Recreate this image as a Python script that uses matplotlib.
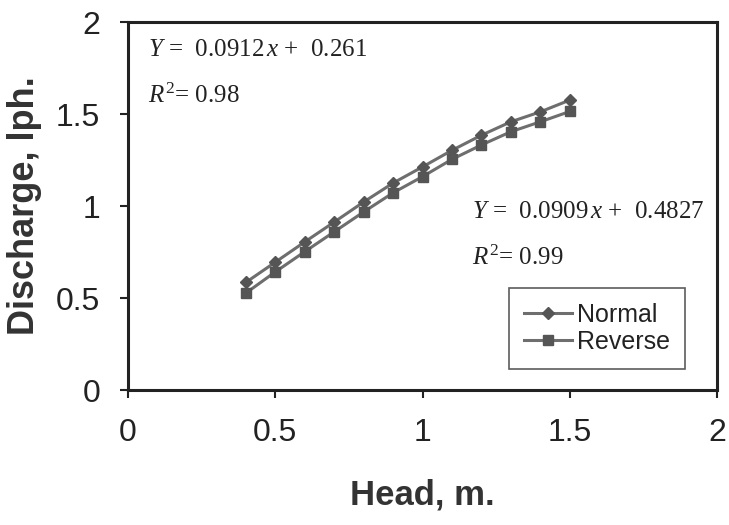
import matplotlib
matplotlib.use("Agg")
import matplotlib.pyplot as plt

# Head (m) vs discharge (lph), normal and reverse flow
head = [0.4, 0.5, 0.6, 0.7, 0.8, 0.9, 1.0, 1.1, 1.2, 1.3, 1.4, 1.5]
normal = [0.585, 0.695, 0.805, 0.913, 1.022, 1.125, 1.213, 1.303, 1.385, 1.458, 1.512, 1.576]
reverse = [0.527, 0.642, 0.752, 0.860, 0.968, 1.072, 1.160, 1.254, 1.332, 1.404, 1.458, 1.514]

xticks = [0, 0.5, 1, 1.5, 2]
yticks = [0, 0.5, 1, 1.5, 2]
xtick_labels = ["0", "0.5", "1", "1.5", "2"]
ytick_labels = ["0", "0.5", "1", "1.5", "2"]

# fitted-line annotations as printed on the chart
eq_normal = ("0.0912", "0.261", "0.98")
eq_reverse = ("0.0909", "0.4827", "0.99")

SANS = ["Liberation Sans", "DejaVu Sans"]
SERIF = ["Liberation Serif", "DejaVu Serif"]
INK = "#222222"

plt.rcParams["mathtext.fontset"] = "custom"
plt.rcParams["mathtext.rm"] = "Liberation Serif"
plt.rcParams["mathtext.it"] = "Liberation Serif:italic"
plt.rcParams["mathtext.bf"] = "Liberation Serif:bold"

fig = plt.figure(figsize=(7.29, 5.25), dpi=100)
ax = fig.add_axes([0.1756, 0.257, 0.808, 0.701])

ax.plot(head, normal, color="#6e6e6e", lw=2.2, marker="D", ms=6.5,
        mfc="#555555", mec="#555555", label="Normal")
ax.plot(head, reverse, color="#6e6e6e", lw=2.2, marker="s", ms=7,
        mfc="#555555", mec="#555555", label="Reverse")

ax.set_xlim(0, 2)
ax.set_ylim(0, 2)
ax.set_xticks(xticks)
ax.set_yticks(yticks)
ax.set_xticklabels(xtick_labels, family=SANS, fontsize=23, color=INK)
ax.set_yticklabels(ytick_labels, family=SANS, fontsize=23, color=INK)
ax.tick_params(axis="both", direction="out", length=6, width=1.5, colors=INK)
ax.tick_params(axis="x", pad=14)
ax.tick_params(axis="y", pad=14)
for sp in ax.spines.values():
    sp.set_linewidth(2.2)
    sp.set_color(INK)

ax.set_xlabel("Head, m.", family=SANS, fontsize=25, fontweight="bold",
              color="#333333", labelpad=22)
ax.set_ylabel("Discharge, lph.", family=SANS, fontsize=26, fontweight="bold",
              color="#333333", labelpad=10)


def put_eq(x, y, slope, icpt, r2):
    ax.text(x, y, rf"$Y$ =  {slope}$\,x$ +  {icpt}", family=SERIF,
            fontsize=18, color=INK, va="center")
    ax.text(x, y - 0.25, r"$R^2$= " + r2, family=SERIF, fontsize=18,
            color=INK, va="center")


put_eq(0.068, 1.85, *eq_normal)
put_eq(1.168, 0.967, *eq_reverse)

leg = ax.legend(loc="lower right", bbox_to_anchor=(0.945, 0.058),
                prop={"family": SANS, "size": 18}, frameon=True, fancybox=False,
                edgecolor="#333333", handlelength=1.9, handletextpad=0.2,
                labelspacing=0.1, borderpad=0.6, borderaxespad=0)
leg.get_frame().set_linewidth(1.2)
for t in leg.get_texts():
    t.set_color(INK)

fig.savefig("out.png", dpi=100)
